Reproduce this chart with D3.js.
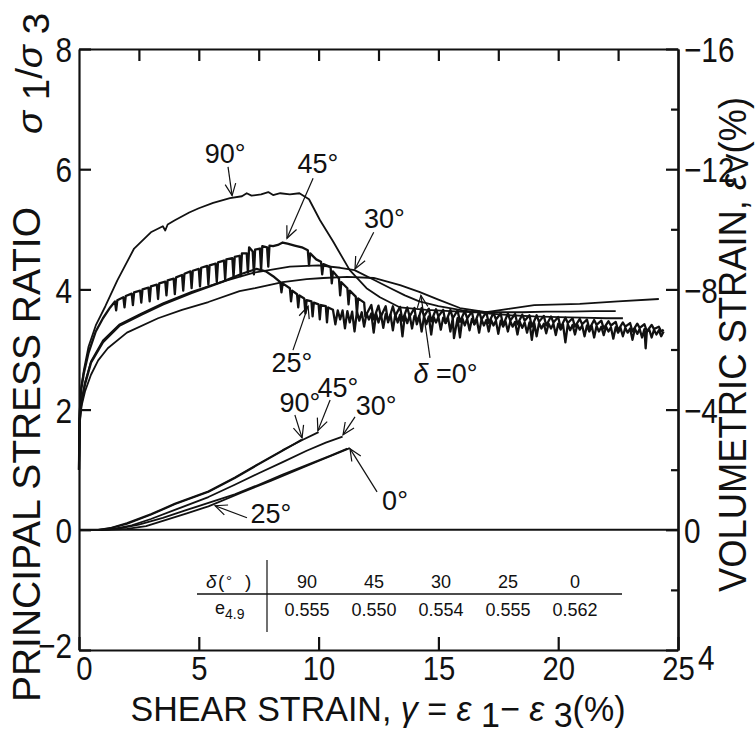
<!DOCTYPE html>
<html>
<head>
<meta charset="utf-8">
<script src="https://cdn.jsdelivr.net/npm/d3@7"></script>
<style>
body { margin: 0; background: #fff; }
text { font-family: "Liberation Sans", Arial, Helvetica, sans-serif; fill: #111; }
.curve { fill: none; stroke: #111; stroke-width: 1.8; stroke-linejoin: round; }
.curve.noisy { stroke-width: 2.3; }
.axis path, .axis line { stroke: #111; stroke-width: 2.2; }
.arrow { fill: none; stroke: #111; stroke-width: 1.2; }
</style>
</head>
<body>
<svg id="chart" width="755" height="733"></svg>
<script>
// ticks
const strainTicks = [0, 5, 10, 15, 20, 25];
const topTicks = [2.5, 5, 7.5, 10, 12.5, 15, 17.5, 20, 22.5];
const ratioTicks = [-2, 0, 2, 4, 6, 8];
const volTicks = [-16, -12, -8, -4, 0, 4];
const volMinorTicks = [-14, -10, -6, -2, 2];

// inset table
const deltaCols = ["90", "45", "30", "25", "0"];
const voidRatios = ["0.555", "0.550", "0.554", "0.555", "0.562"];

// principal stress ratio curves: [shear strain %, sigma1/sigma3]
const ratio90 = [[0,1.0],[0.02,1.9],[0.08,2.35],[0.2,2.65],[0.4,3.05],[0.7,3.4],[1.1,3.72],[1.6,4.15],[2.3,4.68],[3.0,4.95],[3.5,5.05],[3.6,4.98],[3.7,5.08],[4.0,5.15],[4.6,5.28],[5.0,5.35],[5.6,5.44],[6.3,5.52],[6.8,5.55],[7.0,5.6],[7.2,5.56],[7.6,5.58],[7.9,5.62],[8.1,5.57],[8.4,5.6],[8.8,5.58],[9.2,5.6],[9.6,5.5],[10.06,5.15],[10.6,4.8],[11.3,4.32],[12.0,4.02],[12.56,3.87],[13.4,3.7],[14.5,3.66],[15.5,3.64],[16.5,3.62],[17.5,3.62],[18.5,3.62],[19.5,3.63],[20.5,3.63],[21.5,3.64],[22.4,3.64]];

const ratio45 = [[0,1.0],[0.02,1.85],[0.08,2.3],[0.2,2.6],[0.4,2.95],[0.7,3.3],[1.0,3.52],[1.3,3.7],
  [1.5,3.8],[1.55,3.65],[1.6,3.82],[1.85,3.87],[1.9,3.7],[1.95,3.89],[2.2,3.93],[2.25,3.74],[2.3,3.95],[2.55,3.98],[2.6,3.78],[2.65,4.0],[2.9,4.03],[2.95,3.8],[3.0,4.05],[3.25,4.08],[3.3,3.84],[3.35,4.1],[3.6,4.13],[3.65,3.9],[3.7,4.15],[3.95,4.18],[4.0,3.92],[4.05,4.2],[4.3,4.24],[4.35,3.98],[4.4,4.26],[4.65,4.3],[4.7,4.02],[4.75,4.31],[5.0,4.34],[5.05,4.05],[5.1,4.36],[5.35,4.39],[5.4,4.08],[5.45,4.4],[5.7,4.43],[5.75,4.12],[5.8,4.45],[6.05,4.48],[6.1,4.16],[6.15,4.5],[6.4,4.52],[6.45,4.2],[6.5,4.54],[6.7,4.56],[6.75,4.22],[6.8,4.6],[7.0,4.6],[7.05,4.28],[7.1,4.7],[7.25,4.63],[7.3,4.25],[7.35,4.66],[7.55,4.68],[7.6,4.32],[7.65,4.72],[7.85,4.7],[7.9,4.38],[7.95,4.73],[8.1,4.72],[8.3,4.74],[8.5,4.78],[8.7,4.76],[9.0,4.73],[9.3,4.7],[9.55,4.65],[9.6,4.4],[9.65,4.6],[9.9,4.5],[10.1,4.46],[10.15,4.25],[10.2,4.42],[10.5,4.37],[10.55,4.1],[10.6,4.3],[10.85,4.18],[10.9,3.9],[10.95,4.12],[11.2,4.02],[11.25,3.75],[11.3,3.98],[11.55,3.88],[11.6,3.6],[11.65,3.85],[11.9,3.78],[11.95,3.55],
  [12.2,3.74],[12.3,3.5],[12.5,3.73],[12.6,3.55],[12.8,3.72],[12.9,3.45],[13.1,3.72],[13.2,3.56],[13.4,3.71],[13.5,3.48],[13.7,3.7],[13.8,3.55],[14.0,3.69],[14.1,3.42],[14.3,3.69],[14.4,3.55],[14.6,3.68],[14.7,3.47],[14.9,3.67],[15.0,3.55],[15.2,3.66],[15.3,3.44],[15.5,3.66],[15.6,3.52],[15.8,3.65],[15.9,3.46],[16.1,3.64],[16.2,3.52],[16.4,3.63],[16.5,3.42],[16.7,3.63],[16.8,3.5],[17.0,3.62],[17.1,3.44],[17.3,3.61],[17.4,3.5],[17.6,3.6],[17.7,3.4],[17.9,3.6],[18.0,3.48],[18.2,3.59],[18.3,3.42],[18.5,3.58],[18.6,3.48],[18.8,3.57],[18.9,3.38],[19.1,3.57],[19.2,3.46],[19.4,3.56],[19.5,3.4],[19.7,3.55],[19.8,3.45],[20.0,3.54],[20.1,3.36],[20.3,3.53],[20.4,3.44],[20.6,3.52],[20.7,3.38],[20.9,3.51],[21.0,3.42],[21.2,3.5],[21.3,3.34],[21.5,3.49],[21.6,3.41],[21.8,3.48],[21.9,3.35],[22.1,3.47],[22.2,3.4],[22.4,3.46],[22.5,3.32],[22.7,3.45],[22.8,3.38],[23.0,3.44],[23.1,3.3],[23.3,3.43],[23.4,3.36],[23.6,3.42],[23.7,3.3],[23.9,3.41],[24.0,3.34],[24.2,3.38],[24.3,3.3],[24.4,3.33]];

const ratio30 = [[0,1.0],[0.03,1.85],[0.1,2.15],[0.25,2.45],[0.5,2.8],[1.0,3.15],[1.7,3.42],[2.6,3.6],[3.5,3.77],[4.7,3.96],[6.0,4.13],[7.3,4.28],[8.8,4.38],[10.0,4.4],[10.9,4.36],[11.5,4.32],[12.3,4.16],[13.0,4.02],[13.6,3.9],[14.2,3.8],[15.0,3.72],[16.0,3.65],[17.0,3.6],[18.0,3.57],[19.0,3.55],[20.0,3.54],[21.0,3.53],[22.0,3.52],[22.7,3.52]];

const ratio25 = [[0,1.0],[0.03,1.8],[0.1,2.1],[0.25,2.42],[0.5,2.78],[1.0,3.12],[1.7,3.4],[2.6,3.58],[3.5,3.75],[4.7,3.94],[6.0,4.13],[6.8,4.26],[7.4,4.34],[7.8,4.3],[8.1,4.22],[8.4,4.12],[8.45,3.95],[8.5,4.1],[8.8,4.02],[8.85,3.8],[8.9,3.98],[9.1,3.92],[9.15,3.7],[9.2,3.9],[9.4,3.85],[9.45,3.6],[9.5,3.82],[9.7,3.8],[9.75,3.55],[9.8,3.78],[10.0,3.75],[10.05,3.5],[10.1,3.74],[10.3,3.72],[10.35,3.45],[10.4,3.7],
  [10.6,3.66],[10.7,3.42],[10.8,3.65],[10.9,3.5],[11.0,3.65],[11.1,3.35],[11.2,3.64],[11.3,3.45],[11.4,3.63],[11.5,3.3],[11.6,3.63],[11.7,3.48],[11.8,3.62],[11.9,3.38],[12.0,3.6],[12.1,3.5],[12.2,3.6],[12.3,3.28],[12.4,3.6],[12.5,3.45],[12.6,3.59],[12.7,3.36],[12.8,3.59],[12.9,3.48],[13.0,3.58],[13.1,3.32],[13.2,3.58],[13.3,3.45],[13.4,3.58],[13.5,3.22],[13.6,3.57],[13.7,3.44],[13.8,3.57],[13.9,3.35],[14.0,3.56],[14.1,3.46],[14.2,3.56],[14.3,3.3],[14.4,3.55],[14.5,3.42],[14.6,3.55],[14.7,3.25],[14.8,3.54],[14.9,3.45],[15.0,3.54],[15.1,3.33],[15.2,3.53],[15.3,3.44],[15.4,3.53],[15.5,3.3],[15.6,3.52],[15.65,3.19],[15.8,3.52],[15.9,3.2],[16.0,3.52],[16.1,3.4],[16.2,3.51],[16.3,3.32],[16.4,3.51],[16.5,3.42],[16.6,3.5],[16.7,3.28],[16.8,3.5],[16.9,3.4],[17.0,3.49],[17.1,3.3],[17.2,3.49],[17.3,3.4],[17.4,3.48],[17.5,3.26],[17.6,3.48],[17.7,3.38],[17.8,3.47],[17.9,3.3],[18.0,3.47],[18.1,3.38],[18.2,3.46],[18.3,3.25],[18.4,3.46],[18.5,3.36],[18.6,3.45],[18.7,3.28],[18.8,3.45],[18.9,3.16],[19.0,3.44],[19.1,3.22],[19.2,3.44],[19.3,3.35],[19.4,3.43],[19.5,3.27],[19.6,3.43],[19.7,3.35],[19.8,3.43],[19.9,3.24],[20.0,3.43],[20.1,3.33],[20.2,3.42],[20.3,3.12],[20.4,3.42],[20.5,3.32],[20.6,3.41],[20.7,3.25],[20.8,3.41],[20.9,3.33],[21.0,3.4],[21.1,3.22],[21.2,3.4],[21.3,3.3],[21.4,3.39],[21.5,3.2],[21.6,3.39],[21.7,3.3],[21.8,3.38],[21.9,3.24],[22.0,3.38],[22.1,3.3],[22.2,3.37],[22.3,3.18],[22.4,3.37],[22.5,3.28],[22.6,3.36],[22.7,3.22],[22.8,3.36],[22.9,3.28],[23.0,3.35],[23.1,3.16],[23.2,3.35],[23.3,3.26],[23.4,3.34],[23.5,3.2],[23.6,3.34],[23.65,3.02],[23.7,3.3],[23.8,3.33],[23.9,3.2],[24.0,3.33],[24.1,3.25],[24.2,3.32],[24.3,3.22],[24.4,3.3]];

const ratio0 = [[0,1.0],[0.03,1.8],[0.1,2.05],[0.25,2.3],[0.5,2.58],[0.8,2.82],[1.2,3.02],[2.0,3.28],[3.3,3.52],[4.3,3.66],[5.4,3.79],[6.7,3.97],[7.35,4.02],[8.5,4.12],[9.5,4.17],[10.2,4.19],[11.2,4.21],[12.3,4.19],[13.4,4.07],[14.2,3.96],[15.0,3.83],[15.9,3.69],[17.0,3.62],[18.0,3.68],[19.0,3.74],[20.9,3.76],[22.5,3.8],[24.2,3.84]];

// volumetric strain curves: [shear strain %, eps_v %] (negative = dilation)
const vol90 = [[0,0],[0.8,0],[1.3,-0.05],[2.0,-0.2],[3.0,-0.5],[4.0,-0.85],[5.4,-1.26],[6.5,-1.72],[7.5,-2.18],[8.5,-2.63],[9.3,-3.0]];
const vol45 = [[0,0],[0.8,0],[1.3,-0.06],[2.0,-0.22],[3.0,-0.52],[4.0,-0.87],[5.4,-1.28],[6.5,-1.74],[7.5,-2.2],[8.5,-2.65],[9.3,-2.98],[10.0,-3.25]];
const vol30 = [[0,0],[1.0,0],[1.5,-0.04],[2.2,-0.15],[3.0,-0.36],[4.0,-0.66],[5.4,-1.09],[6.5,-1.5],[7.5,-1.88],[8.5,-2.25],[9.5,-2.63],[10.3,-2.9],[11.0,-3.1]];
const vol25 = [[0,0],[1.0,0],[1.7,-0.05],[2.5,-0.17],[3.5,-0.4],[4.5,-0.66],[5.5,-0.92],[6.5,-1.18],[7.5,-1.5],[8.5,-1.84],[9.5,-2.15],[10.5,-2.47],[11.2,-2.7]];
const vol0 = [[0,0],[1.2,0],[2.0,-0.03],[2.8,-0.12],[3.5,-0.3],[4.5,-0.55],[5.4,-0.78],[6.8,-1.24],[8.0,-1.63],[9.0,-1.96],[10.0,-2.29],[11.3,-2.72]];

// callouts in stress-ratio units: label anchor, arrow tail, arrow tip
const callouts = [
  { text: "90°", at: [6.1, 6.1], from: [6.22, 6.04], to: [6.39, 5.56] },
  { text: "45°", at: [9.97, 5.94], from: [9.77, 5.85], to: [8.68, 4.85] },
  { text: "30°", at: [12.75, 5.02], from: [12.3, 4.95], to: [11.52, 4.34] },
  { text: "25°", at: [8.89, 2.63], from: [8.93, 2.99], to: [9.56, 3.72] },
  { text: "90°", at: [9.22, 1.96], from: [9.01, 1.91], to: [9.31, 1.53] },
  { text: "45°", at: [10.81, 2.21], from: [10.48, 2.16], to: [9.97, 1.65] },
  { text: "30°", at: [12.4, 1.91], from: [11.52, 1.88], to: [11.02, 1.58] },
  { text: "0°", at: [13.19, 0.33], from: [12.44, 0.63], to: [11.31, 1.35] },
  { text: "25°", at: [8.01, 0.11], from: [7.01, 0.2], to: [5.68, 0.4] },
  { text: "=0°", greek: "δ", at: [15.3, 2.44], from: [14.65, 2.86], to: [14.27, 3.9] }
];

const svg = d3.select("#chart");
const x = d3.scaleLinear().domain([0, 25]).range([79, 678]);
const y = d3.scaleLinear().domain([-2, 8]).range([650, 49]);
const yv = d3.scaleLinear().domain([4, -16]).range([650, 49]);

function squeeze(sel, k) {
  sel.each(function () {
    const w = this.getComputedTextLength();
    d3.select(this).attr("textLength", w * k).attr("lengthAdjust", "spacingAndGlyphs");
  });
}

// zero line
svg.append("line")
  .attr("x1", x(0)).attr("x2", x(25))
  .attr("y1", y(0)).attr("y2", y(0))
  .attr("stroke", "#111").attr("stroke-width", 2);

// curves
const ratioLine = d3.line().x(d => x(d[0])).y(d => y(d[1]));
const volLine = d3.line().x(d => x(d[0])).y(d => yv(d[1]));
[ratio0, ratio30, ratio90].forEach(s => {
  svg.append("path").attr("class", "curve").attr("d", ratioLine(s));
});
[ratio25, ratio45].forEach(s => {
  svg.append("path").attr("class", "curve noisy").attr("d", ratioLine(s));
});
[vol0, vol25, vol30, vol45, vol90].forEach(s => {
  svg.append("path").attr("class", "curve").attr("d", volLine(s));
});

// axes
const gl = svg.append("g").attr("class", "axis").attr("transform", `translate(${x(0)},0)`)
  .call(d3.axisLeft(y).tickValues(ratioTicks).tickSizeInner(-12).tickSizeOuter(0).tickPadding(7));
const gb = svg.append("g").attr("class", "axis").attr("transform", `translate(0,${y(-2)})`)
  .call(d3.axisBottom(x).tickValues(strainTicks).tickSizeInner(-13).tickSizeOuter(0).tickPadding(3));
svg.append("g").attr("class", "axis").attr("transform", `translate(0,${y(8)})`)
  .call(d3.axisTop(x).tickValues(topTicks).tickSizeInner(-12).tickSizeOuter(0).tickFormat(""));
const gr = svg.append("g").attr("class", "axis").attr("transform", `translate(${x(25)},0)`)
  .call(d3.axisRight(yv).tickValues(volTicks).tickSizeInner(-12).tickSizeOuter(0).tickPadding(6));
svg.append("g").attr("class", "axis").attr("transform", `translate(0,0)`)
  .attr("transform", `translate(${x(25)},0)`)
  .call(d3.axisRight(yv).tickValues(volMinorTicks).tickSizeInner(-7).tickSizeOuter(0).tickFormat(""));

svg.selectAll(".axis .domain").attr("stroke-width", 2.4);

gl.selectAll("text").attr("font-size", 35).attr("font-family", null).attr("dy", "0.36em").call(squeeze, 0.85);
gl.selectAll(".tick").filter(d => d === -2).select("text").attr("dy", "0.2em");
gb.selectAll("text").attr("font-size", 34).attr("font-family", null).attr("dy", "0.8em").call(squeeze, 0.86);
gb.selectAll(".tick").filter(d => d === 0).select("text").attr("dx", 5);
gr.selectAll("text").attr("font-size", 35).attr("font-family", null).attr("dy", "0.36em").call(squeeze, 0.85);
gr.selectAll(".tick").filter(d => d === 4).select("text").attr("dy", "0.55em").attr("dx", 14);

// callouts
const notes = svg.append("g");
callouts.forEach(c => {
  const p0 = [x(c.from[0]), y(c.from[1])];
  const p1 = [x(c.to[0]), y(c.to[1])];
  notes.append("line").attr("class", "arrow")
    .attr("x1", p0[0]).attr("y1", p0[1]).attr("x2", p1[0]).attr("y2", p1[1]);
  const a = Math.atan2(p1[1] - p0[1], p1[0] - p0[0]);
  const h = [a + Math.PI - 0.42, a + Math.PI + 0.42].map(t => [p1[0] + 13 * Math.cos(t), p1[1] + 13 * Math.sin(t)]);
  notes.append("path").attr("class", "arrow").attr("d", `M${h[0]}L${p1}L${h[1]}`);
  const t = notes.append("text").attr("x", x(c.at[0])).attr("y", y(c.at[1]))
    .attr("text-anchor", "middle").attr("font-size", 27);
  if (c.greek) {
    t.append("tspan").attr("font-style", "italic").text(c.greek + " ");
  }
  t.append("tspan").text(c.text);
});

// inset table
const col = d3.scalePoint().domain(deltaCols).range([307, 575]);
const table = svg.append("g");
table.append("line").attr("x1", 197).attr("x2", 622).attr("y1", 594).attr("y2", 594)
  .attr("stroke", "#111").attr("stroke-width", 1.4);
table.append("line").attr("x1", 267).attr("x2", 267).attr("y1", 560).attr("y2", 632)
  .attr("stroke", "#111").attr("stroke-width", 1.2);
table.selectAll(".hd").data(deltaCols).join("text")
  .attr("x", d => col(d)).attr("y", 588).attr("text-anchor", "middle").attr("font-size", 18).text(d => d);
table.selectAll(".vr").data(voidRatios).join("text")
  .attr("x", (d, i) => col(deltaCols[i])).attr("y", 616).attr("text-anchor", "middle").attr("font-size", 18).text(d => d);
const dh = table.append("text").attr("y", 588).attr("font-size", 19).style("white-space", "pre");
dh.append("tspan").attr("x", 206).attr("font-style", "italic").text("δ");
dh.append("tspan").attr("x", 218).text("(");
dh.append("tspan").attr("x", 226).attr("dy", -2).attr("font-size", 15).text("°");
dh.append("tspan").attr("x", 245).attr("dy", 2).text(")");
const eh = table.append("text").attr("x", 215).attr("y", 614).attr("font-size", 18);
eh.append("tspan").text("e");
eh.append("tspan").attr("dy", 5).attr("font-size", 14).text("4.9");

// axis titles
const xt = svg.append("text").attr("x", 378).attr("y", 721).attr("text-anchor", "middle")
  .attr("font-size", 35).attr("textLength", 495).attr("lengthAdjust", "spacingAndGlyphs");
xt.append("tspan").text("SHEAR STRAIN, ");
xt.append("tspan").attr("font-style", "italic").text("γ");
xt.append("tspan").text(" = ");
xt.append("tspan").attr("font-style", "italic").text("ε ");
xt.append("tspan").attr("dy", 6).text("1");
xt.append("tspan").attr("dy", -6).text("− ");
xt.append("tspan").attr("font-style", "italic").text("ε ");
xt.append("tspan").attr("dy", 6).text("3");
xt.append("tspan").attr("dy", -6).text("(%)");

svg.append("text").attr("transform", "translate(40,702) rotate(-90)")
  .attr("font-size", 38).attr("textLength", 495).attr("lengthAdjust", "spacingAndGlyphs")
  .text("PRINCIPAL STRESS RATIO");

const st = svg.append("text").attr("transform", "translate(42,134) rotate(-90)")
  .attr("font-size", 36).attr("textLength", 121).attr("lengthAdjust", "spacingAndGlyphs");
st.append("tspan").attr("font-style", "italic").text("σ ");
st.append("tspan").attr("dy", 7).text("1");
st.append("tspan").attr("dy", -7).text("/");
st.append("tspan").attr("font-style", "italic").text("σ ");
st.append("tspan").attr("dy", 7).text("3");

const rt = svg.append("text").attr("transform", "translate(746,592) rotate(-90)")
  .attr("font-size", 38).attr("textLength", 495).attr("lengthAdjust", "spacingAndGlyphs");
rt.append("tspan").text("VOLUMETRIC STRAIN, ");
rt.append("tspan").attr("font-style", "italic").text("ε");
rt.append("tspan").attr("dy", 2).attr("font-size", 32).text("V");
rt.append("tspan").attr("dy", -2).text("(%)");
</script>
</body>
</html>
